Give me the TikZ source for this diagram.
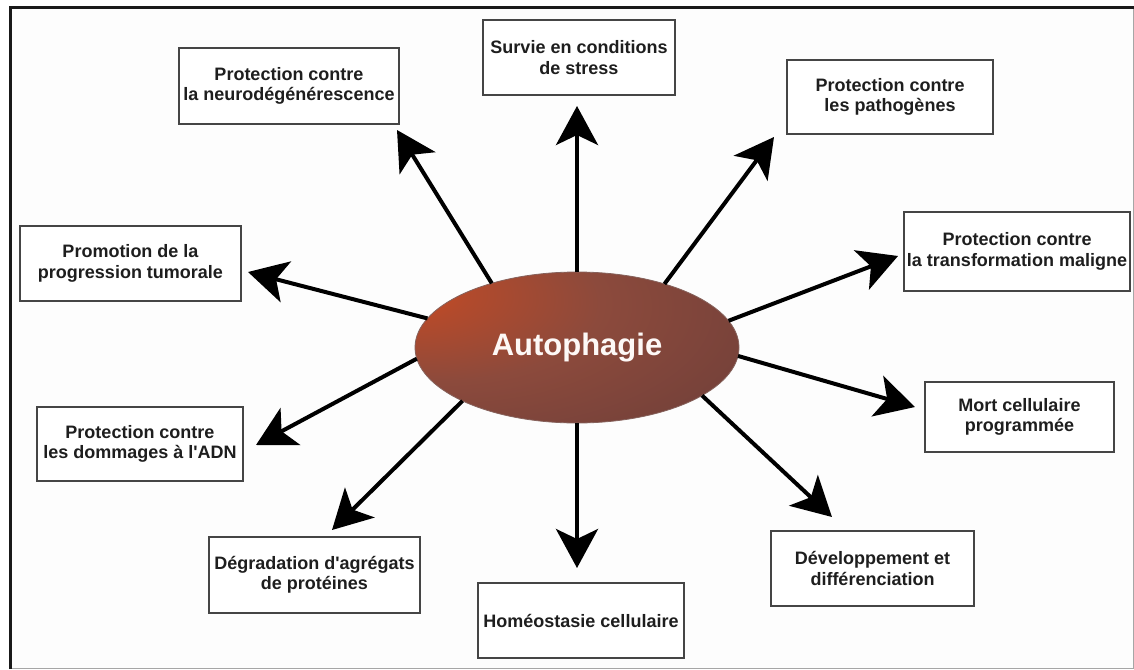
\documentclass[tikz,border=0pt]{standalone}
\usepackage{fontspec}
\setmainfont{Liberation Sans}
\usetikzlibrary{arrows.meta,shapes.geometric}
\definecolor{aoA}{HTML}{D64A1C}
\definecolor{aoB}{HTML}{B24A2C}
\definecolor{aoC}{HTML}{8C4A3C}
\definecolor{aoD}{HTML}{77423A}
\definecolor{aoE}{HTML}{683B33}
\definecolor{boxgray}{HTML}{454545}
\definecolor{txt}{HTML}{1E1E1E}
\definecolor{bgin}{HTML}{FDFDFD}
\pgfdeclareradialshading{autoshade}{\pgfpoint{-30bp}{20bp}}{color(0bp)=(aoA); color(10bp)=(aoB); color(26bp)=(aoC); color(45bp)=(aoD); color(62bp)=(aoE); color(100bp)=(aoE)}
\begin{document}
\begin{tikzpicture}[x=1pt,y=-1pt,
  box/.style={draw=boxgray, line width=1.6pt, fill=white, inner sep=0pt, align=center,
    font=\fontsize{18}{20.5}\selectfont\bfseries, text=txt},
  arr/.style={line width=4pt, draw=black, -{Stealth[length=39pt,width=42pt,inset=10pt]}}]
\useasboundingbox (0,0) rectangle (1134,669);
\fill[white] (0,0) rectangle (1134,669);
\fill[bgin] (10,7) rectangle (1133,668);
\draw[black!35, line width=1pt] (10,668) -- (1133,668) -- (1133,7);
\draw[black!90, line width=3pt] (10.5,669) -- (10.5,7.5) -- (1134,7.5);

% central ellipse
\node[ellipse, minimum width=324pt, minimum height=151pt, inner sep=0pt, outer sep=0pt,
  shade, shading=autoshade, draw=aoE!80!white, line width=0.8pt,
  font=\fontsize{31}{34}\selectfont\bfseries, text=white!96!aoA] (auto) at (577,347.5) {Autophagie};

% boxes
\node[box, minimum width=220pt, minimum height=76pt] (neuro) at (289,86) {Protection contre\\la neurodégénérescence};
\node[box, minimum width=192pt, minimum height=75pt] (survie) at (579,57.5) {Survie en conditions\\de stress};
\node[box, minimum width=206pt, minimum height=74pt] (patho) at (890,97) {Protection contre\\les pathogènes};
\node[box, minimum width=226pt, minimum height=79pt] (transf) at (1017,251.5) {Protection contre\\la transformation maligne};
\node[box, minimum width=189pt, minimum height=70pt] (mort) at (1019.5,417) {Mort cellulaire\\programmée};
\node[box, minimum width=203pt, minimum height=75pt] (dev) at (872.5,568.5) {Développement et\\différenciation};
\node[box, minimum width=206pt, minimum height=75pt] (homeo) at (581,620.5) {Homéostasie cellulaire};
\node[box, minimum width=211pt, minimum height=76pt] (degr) at (314.5,575) {Dégradation d\textquotesingle agrégats\\de protéines};
\node[box, minimum width=206pt, minimum height=74pt] (adn) at (140,444) {Protection contre\\les dommages à l\textquotesingle ADN};
\node[box, minimum width=221pt, minimum height=75pt] (promo) at (130.5,263.5) {Promotion de la\\progression tumorale};

% arrow tips
\coordinate (tneuro) at (397,130);
\coordinate (tsurvie) at (577,106);
\coordinate (tpatho) at (774,137);
\coordinate (ttransf) at (898,256);
\coordinate (tmort) at (915,407);
\coordinate (tdev) at (832,517);
\coordinate (thomeo) at (577,568);
\coordinate (tdegr) at (332,530);
\coordinate (tadn) at (256,445);
\coordinate (tpromo) at (248,272);

% arrows
\draw[arr] (auto.143) -- (tneuro);
\draw[arr] (auto.north) -- (tsurvie);
\draw[arr] (auto.36) -- (tpatho);
\draw[arr] (auto.10) -- (ttransf);
\draw[arr] (auto.-3.4) -- (tmort);
\draw[arr] (auto.-21.8) -- (tdev);
\draw[arr] (auto.south) -- (thomeo);
\draw[arr] (auto.205.4) -- (tdegr);
\draw[arr] (auto.184.4) -- (tadn);
\draw[arr] (auto.169) -- (tpromo);
\end{tikzpicture}
\end{document}
